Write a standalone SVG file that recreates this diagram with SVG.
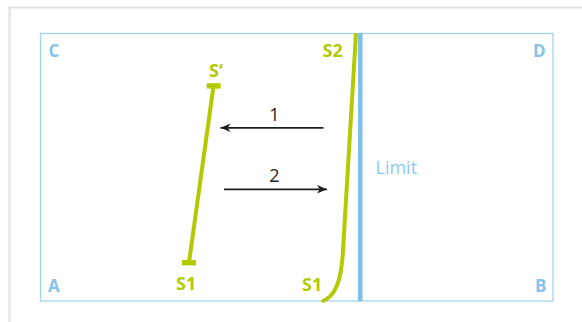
<svg xmlns="http://www.w3.org/2000/svg" width="582" height="322" viewBox="0 0 582 322">
<style>
.corner{font-family:"Open Sans","Liberation Sans",sans-serif;font-weight:bold;font-size:17px;fill:#86c3ea}
.s{font-family:"Open Sans","Liberation Sans",sans-serif;font-weight:bold;font-size:18px;fill:#b3c900}
.num{font-family:"Open Sans","Liberation Sans",sans-serif;font-size:18px;fill:#222}
.lim{font-family:"Open Sans","Liberation Sans",sans-serif;font-size:18px;fill:#8cc8ee}
.green{stroke:#b3c900;stroke-width:4;fill:none}
.arrow{stroke:#1e1e1e;stroke-width:1.7;fill:none;marker-end:url(#ah)}
</style>
<defs>
<marker id="ah" markerUnits="userSpaceOnUse" markerWidth="12" markerHeight="10" refX="10" refY="5" orient="auto">
<path d="M0,0.8 L10,5 L0,9.2 L2.8,5 z" fill="#1e1e1e"/>
</marker>
</defs>
<rect x="0" y="0" width="582" height="322" fill="#fff"/>
<rect id="frame" x="9.5" y="7.5" width="600" height="400" fill="none" stroke="#e0e0e0" stroke-width="2"/>
<g id="area">
<rect x="40.5" y="33.5" width="512.5" height="267.5" fill="none" stroke="#a3d1f0" stroke-width="1.3"/>
<text class="corner" x="48.5" y="56.5">C</text>
<text class="corner" x="533" y="56.5">D</text>
<text class="corner" x="48" y="292">A</text>
<text class="corner" x="535" y="292">B</text>
</g>
<g id="limit">
<line x1="360.3" y1="33" x2="360.3" y2="301" stroke="#7dbfe9" stroke-width="4.5"/>
<text class="lim" x="375.5" y="174">Limit</text>
</g>
<g id="s-prime">
<line class="green" x1="213.5" y1="86" x2="189" y2="262.5"/>
<rect x="206.7" y="83.2" width="14" height="5.4" fill="#b3c900"/>
<rect x="182" y="260" width="14" height="5.4" fill="#b3c900"/>
<text class="s" x="209" y="76.5">S‘</text>
<text class="s" x="176" y="289.5">S1</text>
</g>
<g id="s2">
<path class="green" d="M356,33 L343,250 C341.5,284 334,297 322,301.5"/>
<text class="s" x="322.5" y="56.5">S2</text>
<text class="s" x="302" y="291">S1</text>
</g>
<g id="connectors">
<line class="arrow" x1="323.5" y1="127.8" x2="220.5" y2="127.8"/>
<text class="num" x="274.5" y="121" text-anchor="middle">1</text>
<line class="arrow" x1="224" y1="189.3" x2="327" y2="189.3"/>
<text class="num" x="274.5" y="182" text-anchor="middle">2</text>
</g>
</svg>
